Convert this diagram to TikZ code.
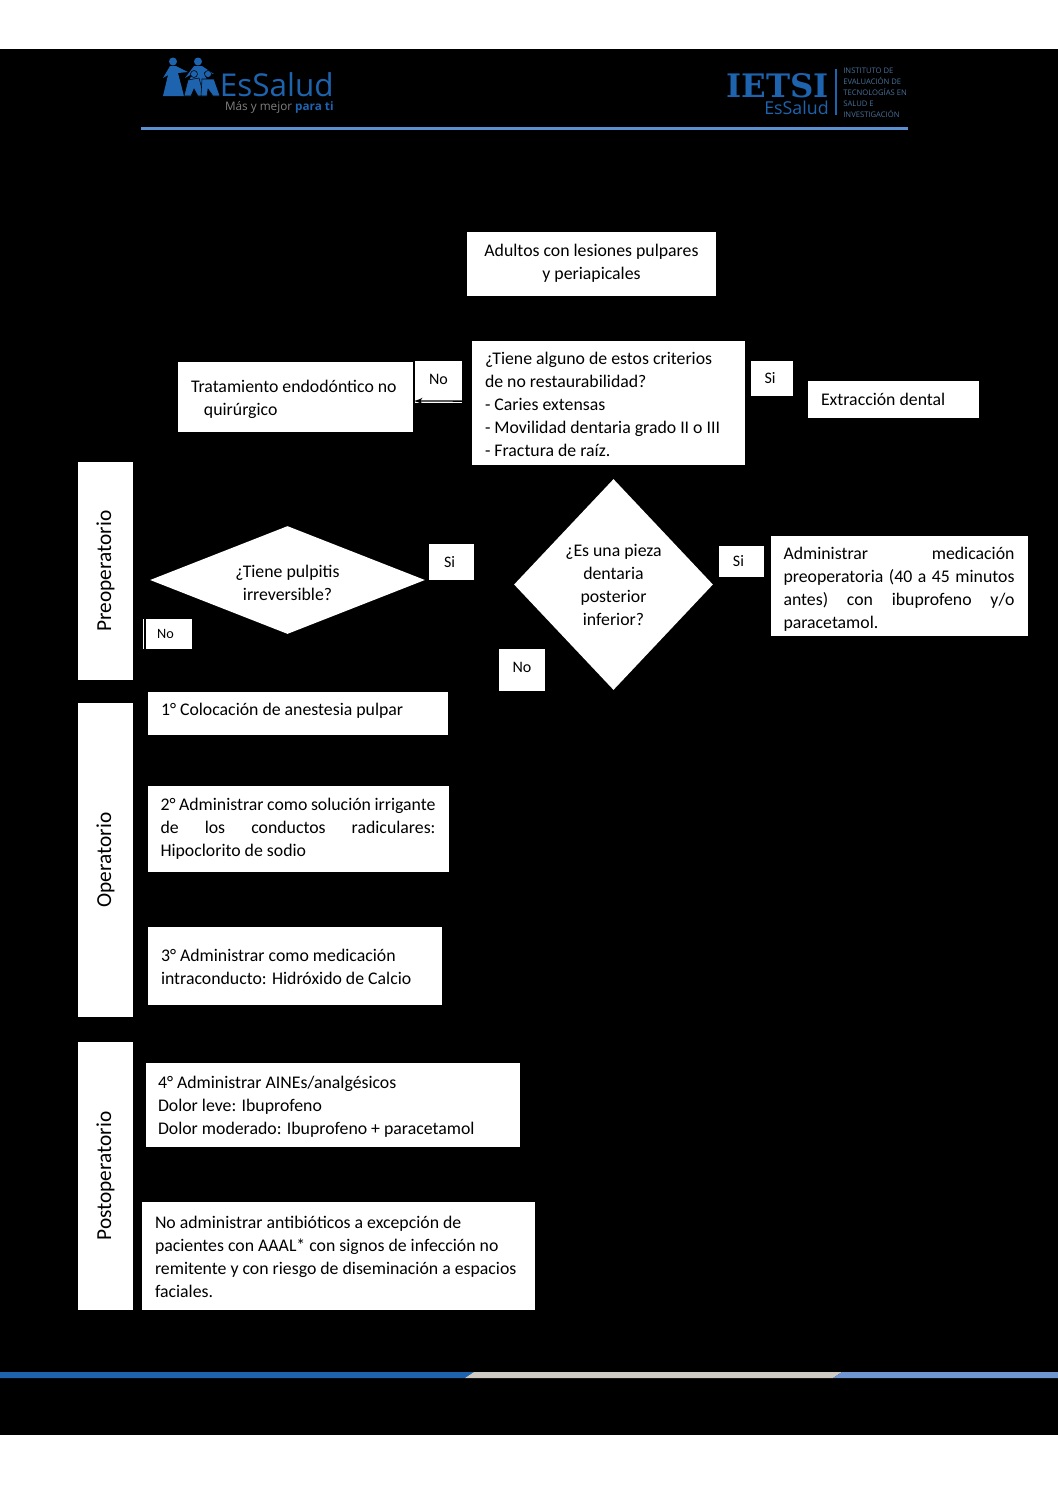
\documentclass[tikz,border=0pt]{standalone}
\usepackage{fontspec}
\setmainfont{Carlito}
\newfontfamily\logofont{Open Sans}
\newfontfamily\slabfont{DejaVu Serif}
\usepackage{tikz}
\usetikzlibrary{arrows}
\usetikzlibrary{shapes}

\definecolor{essaludblue}{HTML}{1D63AE}
\definecolor{ruleblue}{HTML}{5B8FD0}
\definecolor{barblue}{HTML}{6F96D0}
\definecolor{bargray}{HTML}{CFCAC3}
\newcommand{\pxu}{0.5625pt}

\tikzset{
	textbox/.style={rectangle, fill=white, text=black, inner xsep=13*\pxu, inner ysep=0pt, align=flush left, font=\fontsize{10}{12.94}\selectfont},
	answerbox/.style={rectangle, fill=white, text=black, inner sep=0pt, text width=40*\pxu, align=flush center, font=\fontsize{9}{11}\selectfont},
	phasebox/.style={rectangle, fill=white, text=black, rotate=90, inner sep=0pt, minimum height=55*\pxu, font=\fontsize{12}{14}\selectfont},
	question/.style={diamond, fill=white, text=black, inner sep=0pt, align=flush center, font=\fontsize{10}{12.94}\selectfont},
	logotext/.style={inner sep=0pt, text=essaludblue, text depth=0pt, anchor=base east},
}

\begin{document}
\begin{tikzpicture}[x=0.5625pt, y=-0.5625pt]
		\useasboundingbox (0,0) rectangle (1058,1497);
		\fill[white] (0,0) rectangle (1058,1497);
		\fill[black] (0,49) rectangle (1058,1435);
		
		% header
		\fill[essaludblue] (173,61.5) circle (4);
		\fill[essaludblue] (198,61.5) circle (4);
		\fill[essaludblue] (170,66) -- (176,66) -- (188,72) -- (178,73) -- (184,96) -- (163,96) -- (168,75) -- (163,78) -- cycle;
		\fill[essaludblue] (194,66) -- (202,66) -- (214,74) -- (204,72) -- (210,88) -- (186,88) -- (192,74) -- (185,78) -- cycle;
		\filldraw[fill=essaludblue, draw=black, line width=0.3pt] (194,74) circle (3.5);
		\filldraw[fill=essaludblue, draw=black, line width=0.3pt] (188,80) -- (199,78) -- (204,96) -- (198,96) -- (194,89) -- (191,96) -- (184,96) -- cycle;
		\filldraw[fill=essaludblue, draw=black, line width=0.3pt] (208,74) circle (3.5);
		\filldraw[fill=essaludblue, draw=black, line width=0.3pt] (202,79) -- (214,79) -- (220,96) -- (213,96) -- (208,89) -- (207,96) -- (201,96) -- cycle;
		
		\node[logotext, font=\logofont\fontsize{17.7}{18}\selectfont] (essalud) at (334,96.5) {EsSalud};
		\node[logotext, text=gray, font=\logofont\fontsize{6.6}{7}\selectfont] (lema) at (334,110) {Más y mejor \textcolor{essaludblue}{\bfseries para ti}};
		
		\node[logotext, text height=9pt, font=\slabfont\bfseries\fontsize{18.2}{18.2}\selectfont] (ietsi) at (829,97) {IETSI};
		\node[logotext, text height=7pt, font=\logofont\fontsize{10}{10}\selectfont] (essaludtwo) at (829,114) {EsSalud};
		\fill[essaludblue] (835,69) rectangle (836.5,115);
		\node[inner sep=0pt, text=essaludblue!55!gray, align=left, anchor=north west, font=\logofont\fontsize{4.3}{6.2}\selectfont] (instituto) at (843,68) {INSTITUTO DE\\EVALUACIÓN DE\\TECNOLOGÍAS EN\\SALUD E\\INVESTIGACIÓN};
		
		\fill[ruleblue] (141,127) rectangle (908,129.5);
		
		% flowchart
		\node[textbox, align=flush center, minimum width=249*\pxu, minimum height=64*\pxu, text width=223*\pxu] (adultos) at (591.5,264) {Adultos con lesiones pulpares\\y periapicales\par\vspace{1.1pt}};
		
		\node[textbox, minimum width=273*\pxu, minimum height=124*\pxu, text width=247*\pxu] (criterios) at (608.5,403) {¿Tiene alguno de estos criterios\\de no restaurabilidad?\\- Caries extensas\\- Movilidad dentaria grado II o III\\- Fractura de raíz.\par\vspace{-1.6pt}};
		
		\node[textbox, minimum width=235*\pxu, minimum height=70*\pxu, text width=209*\pxu] (tratamiento) at (295.5,397) {Tratamiento endodóntico no\\\hspace*{7.3pt}quirúrgico\par\vspace{-2.2pt}};
		
		\node[textbox, minimum width=171*\pxu, minimum height=37*\pxu, text width=145*\pxu] (extraccion) at (893.5,399.5) {Extracción dental};
		
		\node[answerbox, minimum width=47*\pxu, minimum height=42*\pxu] (nocriterio) at (438.5,382) {No\par\vspace{2.5pt}};
		
		\node[answerbox, minimum width=42*\pxu, minimum height=35*\pxu] (sicriterio) at (772,378.5) {Si\hspace*{2.2pt}};
		
		\node[phasebox, minimum width=218*\pxu] (preoperatorio) at (105.5,571) {Preoperatorio};
		
		\node[phasebox, minimum width=314*\pxu] (operatorio) at (105.5,860) {Operatorio};
		
		\node[phasebox, minimum width=268*\pxu] (postoperatorio) at (105.5,1176) {Postoperatorio};
		
		\node[question, aspect=2.55, text width=140*\pxu, minimum width=275*\pxu, minimum height=108*\pxu] (pulpitis) at (287.5,580) {¿Tiene pulpitis\\irreversible?\par\vspace{-2.8pt}};
		
		\node[answerbox, minimum width=45*\pxu, minimum height=36*\pxu] (sipulpitis) at (451.5,562) {Si\hspace*{2.2pt}};
		
		\node[answerbox, font=\fontsize{8}{10}\selectfont, minimum width=49*\pxu, minimum height=30*\pxu] (nopulpitis) at (167.5,634) {No\hspace*{2.2pt}\par\vspace{-2.2pt}};
		
		\node[question, aspect=0.94, minimum width=199*\pxu, minimum height=211*\pxu] (pieza) at (613.5,584.5) {¿Es una pieza\\dentaria\\posterior\\inferior?};
		
		\node[answerbox, minimum width=45*\pxu, minimum height=31*\pxu] (sipieza) at (741.5,561.5) {Si\hspace*{3.4pt}};
		
		\node[answerbox, minimum width=46*\pxu, minimum height=42*\pxu] (nopieza) at (522,670) {No\par\vspace{3.4pt}};
		
		\node[textbox, align=justify, minimum width=256*\pxu, minimum height=100*\pxu, text width=231*\pxu] (medicacion) at (899,586) {Administrar medicación\linebreak preoperatoria (40 a 45 minutos\linebreak antes) con ibuprofeno y/o\linebreak paracetamol.\par\vspace{-3.4pt}};
		
		\node[textbox, minimum width=300*\pxu, minimum height=43*\pxu, text width=274*\pxu] (anestesia) at (298,713.5) {1° Colocación de anestesia pulpar\par\vspace{2.8pt}};
		
		\node[textbox, align=justify, minimum width=300*\pxu, minimum height=86*\pxu, text width=275*\pxu] (irrigante) at (298,829) {2° Administrar como solución irrigante\linebreak de los conductos radiculares:\linebreak Hipoclorito de sodio\par\vspace{0.6pt}};
		
		\node[textbox, minimum width=294*\pxu, minimum height=78*\pxu, text width=268*\pxu] (intraconducto) at (295,966) {3° Administrar como medicación\\intraconducto: Hidróxido de Calcio\par\vspace{-0.6pt}};
		
		\node[textbox, minimum width=374*\pxu, minimum height=84*\pxu, text width=350*\pxu, inner xsep=12*\pxu] (aines) at (333,1105) {4° Administrar AINEs/analgésicos\\Dolor leve: Ibuprofeno\\Dolor moderado: Ibuprofeno + paracetamol\par\vspace{-2.2pt}};
		
		\node[textbox, minimum width=393*\pxu, minimum height=108*\pxu, text width=367*\pxu] (antibioticos) at (338.5,1256) {No administrar antibióticos a excepción de\\pacientes con AAAL* con signos de infección no\\remitente y con riesgo de diseminación a espacios\\faciales.\par\vspace{-1.2pt}};
		
		% the connectors show only where they cross a white box
		\path [line width=0.8pt, draw, -latex', >=latex] ([yshift=1.1pt]criterios.west) -- ([yshift=-2.25pt]tratamiento.east);
		\path [draw, line width=1pt, black] (pulpitis.west) -- ++(-4.5,0) |- (anestesia.west);
		
		% footer
		\fill[essaludblue] (0,1372) -- (474,1372) -- (465,1378) -- (0,1378) -- cycle;
		\fill[bargray] (474,1372) -- (842,1372) -- (833,1378) -- (465,1378) -- cycle;
		\fill[barblue] (842,1372) -- (1058,1372) -- (1058,1378) -- (833,1378) -- cycle;
	\end{tikzpicture}
\end{document}
